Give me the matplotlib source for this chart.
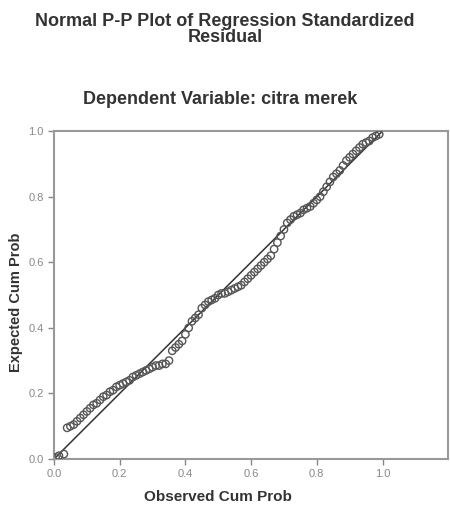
import matplotlib
matplotlib.use("Agg")
import matplotlib.pyplot as plt

plt.rcParams['font.family'] = ['Liberation Sans', 'DejaVu Sans']

observed = [0.005, 0.015, 0.03, 0.04, 0.05, 0.06, 0.07, 0.08, 0.09, 0.10,
            0.11, 0.12, 0.13, 0.14, 0.15, 0.16, 0.17, 0.18, 0.19, 0.20,
            0.21, 0.22, 0.23, 0.24, 0.25, 0.26, 0.27, 0.28, 0.29, 0.30,
            0.31, 0.32, 0.33, 0.34, 0.35, 0.36, 0.37, 0.38, 0.39, 0.40,
            0.41, 0.42, 0.43, 0.44, 0.45, 0.46, 0.47, 0.48, 0.49, 0.50,
            0.51, 0.52, 0.53, 0.54, 0.55, 0.56, 0.57, 0.58, 0.59, 0.60,
            0.61, 0.62, 0.63, 0.64, 0.65, 0.66, 0.67, 0.68, 0.69, 0.70,
            0.71, 0.72, 0.73, 0.74, 0.75, 0.76, 0.77, 0.78, 0.79, 0.80,
            0.81, 0.82, 0.83, 0.84, 0.85, 0.86, 0.87, 0.88, 0.89, 0.90,
            0.91, 0.92, 0.93, 0.94, 0.95, 0.96, 0.97, 0.98, 0.99]
expected = [0.005, 0.01, 0.015, 0.095, 0.10, 0.105, 0.115, 0.125, 0.135, 0.145,
            0.155, 0.165, 0.17, 0.18, 0.19, 0.195, 0.205, 0.21, 0.22, 0.225,
            0.23, 0.235, 0.24, 0.25, 0.255, 0.26, 0.265, 0.27, 0.275, 0.28,
            0.285, 0.285, 0.29, 0.29, 0.30, 0.33, 0.34, 0.35, 0.36, 0.38,
            0.40, 0.42, 0.43, 0.44, 0.46, 0.47, 0.48, 0.485, 0.49, 0.50,
            0.505, 0.505, 0.51, 0.515, 0.52, 0.525, 0.53, 0.54, 0.55, 0.56,
            0.57, 0.58, 0.59, 0.60, 0.61, 0.62, 0.64, 0.66, 0.68, 0.70,
            0.72, 0.73, 0.74, 0.745, 0.75, 0.76, 0.765, 0.77, 0.78, 0.79,
            0.80, 0.815, 0.83, 0.845, 0.86, 0.87, 0.88, 0.895, 0.91, 0.92,
            0.93, 0.94, 0.95, 0.96, 0.965, 0.97, 0.98, 0.985, 0.99]

ref_line = [0.0, 1.0]
x_ticks = [0.0, 0.2, 0.4, 0.6, 0.8, 1.0]
y_ticks = [0.0, 0.2, 0.4, 0.6, 0.8, 1.0]

fig = plt.figure(figsize=(4.5, 5.12), dpi=100)
ax = fig.add_axes([0.12, 0.1035, 0.876, 0.6405])

ax.plot(ref_line, ref_line, color='#333333', lw=1.1, zorder=2)
ax.scatter(observed, expected, s=28, facecolors='none', edgecolors='#555555',
           linewidths=1.0, zorder=3)

ax.set_xlim(0, 1.2)
ax.set_ylim(0, 1.0)
ax.set_xticks(x_ticks)
ax.set_yticks(y_ticks)
ax.set_xticklabels([f"{v:.1f}" for v in x_ticks])
ax.set_yticklabels([f"{v:.1f}" for v in y_ticks])
ax.tick_params(direction='out', length=4, width=1.0, colors='#888888',
               labelsize=8, labelcolor='#888888')
for s in ax.spines.values():
    s.set_color('#999999')
    s.set_linewidth(1.5)

fig.text(0.5, 0.975, "Normal P-P Plot of Regression Standardized\nResidual",
         ha='center', va='top', fontsize=13, fontweight='bold',
         color='#333333', linespacing=0.95)
fig.text(0.49, 0.805, "Dependent Variable: citra merek", ha='center',
         va='center', fontsize=13, fontweight='bold', color='#333333')
ax.text(0.5 / 1.2, -0.115, "Observed Cum Prob", transform=ax.transAxes,
        ha='center', va='center', fontsize=11, fontweight='bold',
        color='#333333')
fig.text(0.035, 0.41, "Expected Cum Prob", rotation=90, ha='center',
         va='center', fontsize=10.5, fontweight='bold', color='#333333')

fig.savefig("out.png", dpi=100)
